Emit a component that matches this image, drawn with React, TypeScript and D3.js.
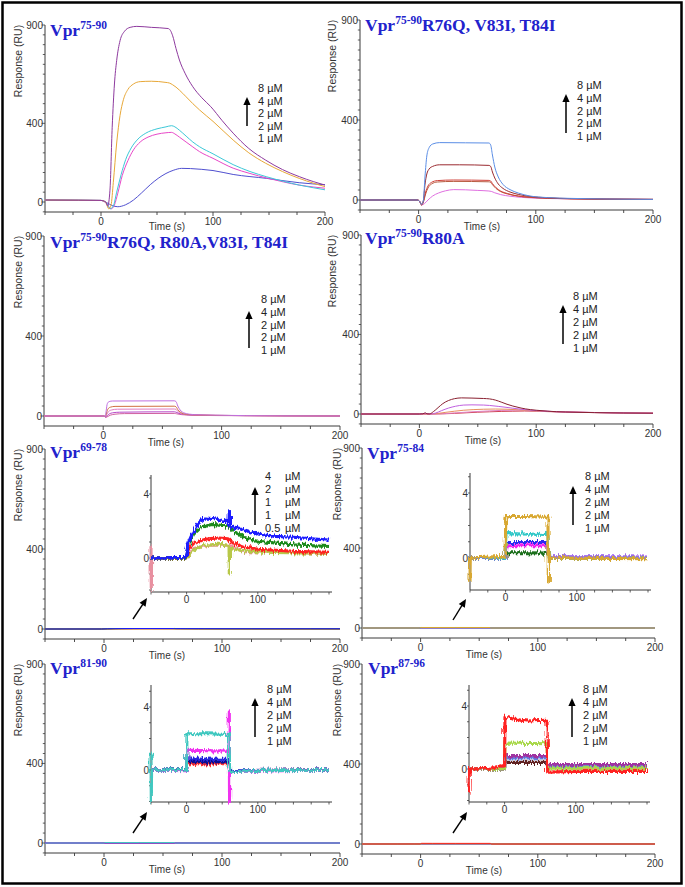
import * as d3 from "d3";

type Pt = [number, number];
interface Trace { color: string; pts: Pt[] }

// ---------- axis ticks / labels ----------
const timeTicks = [-50, -25, 0, 25, 50, 75, 100, 125, 150, 175, 200];
const timeLabels = [0, 100, 200];
const respTicks = d3.range(-50, 901, 50);
const respLabels = [0, 400, 900];
const insetTimeLabels = [0, 100];
const insetRespTicks = [-2, -1, 0, 1, 2, 3, 4, 5];
const insetRespLabels = [0, 4];
const concLabels = ["8 µM", "4 µM", "2 µM", "2 µM", "1 µM"];
const conc6978Labels = ["4", "2", "1", "1", "0.5"];

// ---------- Vpr75-90 ----------
const wt8: Pt[] = [[-50, 10], [-20, 9], [0, 8], [4, 2], [6, -20], [8, 60], [10, 380], [12, 600], [14, 720], [17, 820], [21, 868], [26, 888], [32, 893], [45, 888], [60, 882], [62, 872], [64, 845], [67, 780], [70, 722], [75, 655], [82, 586], [90, 530], [98, 485], [108, 415], [118, 350], [132, 272], [147, 213], [162, 165], [177, 129], [190, 103], [200, 86]];
const wt4: Pt[] = [[-50, 10], [-20, 9], [0, 8], [4, 0], [7, -35], [9, -15], [11, 100], [14, 300], [17, 440], [20, 520], [24, 572], [29, 600], [35, 612], [45, 614], [58, 608], [61, 605], [64, 596], [67, 584], [70, 569], [76, 535], [82, 500], [88, 468], [100, 410], [118, 315], [132, 250], [147, 197], [162, 155], [177, 120], [190, 95], [200, 78]];
const wt2a: Pt[] = [[-50, 10], [-20, 9], [0, 8], [5, -5], [8, -35], [11, -20], [14, 50], [18, 140], [22, 215], [27, 275], [33, 320], [40, 350], [50, 372], [58, 382], [63, 388], [66, 382], [70, 365], [76, 335], [82, 305], [88, 281], [100, 245], [118, 190], [133, 155], [148, 128], [163, 105], [177, 86], [190, 72], [200, 62]];
const wt2b: Pt[] = [[-50, 10], [-20, 9], [0, 8], [5, -8], [9, -35], [12, -15], [15, 45], [19, 135], [24, 210], [29, 265], [35, 305], [42, 330], [50, 345], [58, 352], [63, 354], [66, 346], [70, 330], [76, 305], [82, 280], [88, 256], [100, 222], [118, 172], [133, 145], [148, 122], [163, 102], [177, 86], [190, 76], [200, 70]];
const wt1: Pt[] = [[-50, 10], [-20, 9], [0, 8], [5, -3], [10, -18], [15, -24], [22, -14], [29, 10], [36, 45], [44, 88], [51, 120], [58, 145], [65, 162], [72, 171], [80, 170], [90, 166], [100, 160], [118, 140], [148, 120], [177, 98], [200, 88]];

// ---------- Vpr75-90 R76Q, V83I, T84I ----------
const m3_8: Pt[] = [[-50, 0], [-1, 0], [1, -8], [2.5, -22], [4, -5], [5.5, 120], [7, 220], [9, 262], [12, 280], [18, 287], [40, 286], [60, 285], [61.5, 275], [63, 225], [65, 165], [68, 115], [72, 78], [78, 52], [85, 35], [95, 20], [110, 12], [130, 8], [160, 5], [200, 3]];
const m3_4: Pt[] = [[-50, 0], [-1, 0], [1, -8], [2.5, -22], [4, -5], [5.5, 80], [7, 130], [9, 155], [12, 168], [18, 176], [35, 176], [60, 173], [61.5, 168], [63, 140], [65, 110], [68, 80], [72, 58], [78, 40], [85, 28], [95, 18], [110, 11], [130, 7], [160, 5], [200, 3]];
const m3_2a: Pt[] = [[-50, 0], [-1, 0], [1, -8], [2.5, -25], [4, -10], [6, 40], [8, 70], [11, 88], [16, 97], [30, 100], [60, 98], [61.5, 95], [63, 82], [66, 62], [70, 45], [76, 32], [85, 20], [95, 14], [110, 9], [130, 6], [160, 4], [200, 3]];
const m3_2b: Pt[] = [[-50, 0], [-1, 0], [1, -8], [2.5, -25], [4, -12], [6, 30], [8, 60], [11, 80], [16, 90], [30, 93], [60, 91], [61.5, 88], [63, 77], [66, 58], [70, 42], [76, 30], [85, 19], [95, 13], [110, 9], [130, 6], [160, 4], [200, 3]];
const m3_1: Pt[] = [[-50, 0], [-1, 0], [1, -8], [2.5, -25], [5, -18], [8, 0], [12, 20], [17, 35], [23, 46], [30, 52], [40, 51], [50, 48], [60, 45], [62, 43], [65, 36], [70, 27], [78, 19], [88, 13], [100, 9], [130, 6], [160, 4], [200, 3]];

// ---------- Vpr75-90 R76Q, R80A, V83I, T84I ----------
const m4_8: Pt[] = [[-50, 0], [1, 0], [1.8, -4], [2.6, 30], [3.5, 62], [5, 72], [8, 75], [60, 76], [61.5, 72], [63, 50], [65, 30], [68, 16], [73, 9], [80, 6], [95, 4], [120, 2], [150, 1], [200, 0]];
const m4_4: Pt[] = [[-50, 0], [1, 0], [1.8, -4], [2.8, 15], [4, 35], [6, 44], [10, 48], [60, 49], [61.5, 46], [63, 32], [65, 20], [68, 11], [73, 7], [80, 5], [95, 3], [120, 2], [150, 1], [200, 0]];
const m4_2a: Pt[] = [[-50, 0], [1, 0], [1.8, -5], [3, 8], [4.5, 22], [7, 30], [12, 34], [60, 35], [61.5, 33], [63, 23], [66, 13], [70, 8], [80, 5], [95, 3], [120, 2], [200, 0]];
const m4_2b: Pt[] = [[-50, 0], [1, 0], [2, -6], [3.5, 2], [5, 10], [8, 16], [14, 19], [60, 21], [61.5, 19], [64, 13], [68, 8], [75, 5], [95, 3], [120, 2], [200, 0]];
const m4_1: Pt[] = [[-50, 0], [1, 0], [2, -7], [4, -2], [6, 4], [10, 9], [18, 12], [60, 13], [62, 11], [66, 7], [75, 4], [100, 2], [200, 0]];

// ---------- Vpr75-90 R80A ----------
const r80_8: Pt[] = [[-50, 0], [0, 0], [3, 1], [5, 6], [6.5, 1], [8.5, 0], [12, 12], [16, 32], [20, 52], [25, 68], [30, 77], [36, 81], [45, 80], [55, 78], [60, 76], [65, 70], [70, 60], [75, 49], [80, 40], [87, 30], [95, 22], [100, 19], [110, 14], [125, 10], [150, 7], [175, 5], [200, 4]];
const r80_4: Pt[] = [[-50, 0], [0, 0], [5, 2], [10, 0], [14, 5], [19, 17], [25, 30], [31, 39], [38, 45], [45, 46], [55, 45], [60, 43], [68, 38], [75, 33], [80, 29], [90, 22], [100, 17], [115, 12], [135, 9], [165, 6], [200, 4]];
const r80_2a: Pt[] = [[-50, 0], [0, 0], [10, 0], [16, 3], [22, 8], [30, 14], [38, 19], [46, 22], [55, 24], [65, 25], [75, 24], [85, 21], [95, 17], [105, 14], [120, 11], [140, 8], [170, 6], [200, 4]];
const r80_2b: Pt[] = [[-50, 0], [0, 0], [12, 0], [22, 2], [32, 6], [45, 11], [58, 15], [70, 18], [82, 19], [92, 18], [102, 15], [115, 12], [135, 9], [165, 6], [200, 4]];
const r80_1: Pt[] = [[-50, 0], [0, 0], [12, 0], [20, 1], [30, 3], [40, 6], [50, 9], [60, 11], [70, 13], [80, 14], [90, 15], [100, 14], [110, 12], [125, 10], [150, 7], [200, 4]];

// ---------- Vpr69-78 ----------
const f6978_05: Pt[] = [[-50, 0.8], [-49.6, -2], [-49.2, 0], [0, 0], [10, 0.6], [30, 0.8], [60, 0.8], [80, 0.4], [200, 0.3]];
const f6978_1a: Pt[] = [[-50, 0], [0, 0], [10, 0.5], [25, 0.8], [45, 0.85], [59.6, 0.8], [60, -1], [60.4, 0.6], [80, 0.45], [120, 0.35], [200, 0.3]];
const f6978_1b: Pt[] = [[-50, 0], [-2, 0], [3, 0.6], [12, 1.0], [30, 1.2], [45, 1.25], [58, 1.2], [65, 0.95], [80, 0.7], [100, 0.55], [150, 0.42], [200, 0.35]];
const f6978_2: Pt[] = [[-50, 0], [-2, 0], [3, 0.9], [10, 1.5], [20, 1.9], [35, 2.1], [58, 2.0], [65, 1.7], [80, 1.3], [100, 1.05], [150, 0.82], [200, 0.72]];
const f6978_4: Pt[] = [[-50, 0], [-2, 0.05], [3, 1.0], [8, 1.5], [15, 2.1], [25, 2.5], [40, 2.45], [59.6, 2.25], [60, 2.9], [60.4, 1.95], [70, 1.9], [85, 1.7], [100, 1.5], [125, 1.35], [150, 1.3], [175, 1.2], [200, 1.12]];

// ---------- Vpr75-84 ----------
const f7584_1: Pt[] = [[-50, 0], [-1, 0], [0.5, 0.32], [30, 0.32], [59.5, 0.3], [60.5, 0], [200, 0]];
const f7584_2a: Pt[] = [[-50, 0], [-1, 0], [0.5, 0.95], [59.5, 0.95], [60.5, 0.08], [200, 0.05]];
const f7584_2b: Pt[] = [[-50, 0], [-1, 0], [0.5, 0.75], [59.5, 0.75], [60.5, 0.05], [200, 0.05]];
const f7584_4: Pt[] = [[-50, 0], [-1, 0], [0.5, 1.5], [59.5, 1.45], [60.5, 0], [200, 0]];
const f7584_8: Pt[] = [[-50, -1.4], [-49.6, 0], [-1, 0.1], [0.5, 2.55], [30, 2.55], [59.5, 2.5], [60, -1.5], [60.5, 0], [200, -0.05]];

// ---------- Vpr81-90 ----------
const f8190_1: Pt[] = [[-50, 0], [0, 0], [0.5, 0.4], [59.5, 0.4], [60.5, -0.05], [200, 0]];
const f8190_2a: Pt[] = [[-50, 0], [0, 0], [0.5, 0.55], [59.5, 0.5], [60.5, -0.05], [200, 0]];
const f8190_2b: Pt[] = [[-50, 0], [0, 0], [0.5, 0.7], [59.5, 0.68], [60.5, -0.05], [200, 0]];
const f8190_4: Pt[] = [[-50, 0], [0, -0.05], [0.5, 1.25], [59.5, 1.2], [60, 3.7], [60.3, -2.0], [60.6, -0.1], [200, 0]];
const f8190_8: Pt[] = [[-50, 1.1], [-49.6, -2.0], [-49.2, 0], [0, 0], [0.5, 2.3], [30, 2.3], [59.5, 2.25], [60.5, -0.1], [100, -0.05], [200, 0]];

// ---------- Vpr87-96 ----------
const f8796_1: Pt[] = [[-50, 0], [0, 0], [0.5, 0.42], [59.5, 0.42], [60.5, 0.2], [200, 0.2]];
const f8796_2a: Pt[] = [[-50, 0], [0, 0], [0.5, 0.7], [59.5, 0.7], [60.5, 0.15], [200, 0.15]];
const f8796_2b: Pt[] = [[-50, 0], [0, 0], [0.5, 0.85], [59.5, 0.85], [60.5, 0.3], [200, 0.28]];
const f8796_4: Pt[] = [[-50, 0], [0, 0], [0.5, 1.65], [59.5, 1.6], [60.5, 0.05], [200, 0.05]];
const f8796_8: Pt[] = [[-50, -1.5], [-49.6, 0], [-20, 0.05], [-5, 0.2], [0, 0.2], [0.5, 3.3], [10, 3.2], [30, 3.05], [59.5, 3.1], [60.5, -0.2], [100, -0.15], [200, -0.15]];

// ---------- layout ----------
interface InsetDef { x0: number; x1: number; top: number; bottom: number; zero: number; ppu: number; arrow: [number, number, number, number] }
interface LegendDef { x: number; y: number; step: number; ax: number; atop: number; abot: number; muX?: number }
interface PanelDef {
  sup: string; rest: string; tx: number; ty: number;
  ax: number; axEnd: number; y900: number; y0: number; respX: number; timeDy?: number;
  traces: Trace[]; labels: string[]; legend: LegendDef; inset?: InsetDef;
}

const panels: PanelDef[] = [
  {
    sup: "75-90", rest: "", tx: 50, ty: 36, ax: 45, axEnd: 325, y900: 25, y0: 202, respX: 18, timeDy: 17.5,
    traces: [
      { color: "#5050d0", pts: wt1 }, { color: "#e848c8", pts: wt2b }, { color: "#3cc8d8", pts: wt2a },
      { color: "#e8a838", pts: wt4 }, { color: "#8e3a9e", pts: wt8 },
    ],
    labels: concLabels, legend: { x: 258, y: 92, step: 12.5, ax: 247, atop: 97, abot: 126 },
  },
  {
    sup: "75-90", rest: "R76Q, V83I, T84I", tx: 365, ty: 31, ax: 360, axEnd: 653, y900: 20, y0: 200, respX: 332,
    traces: [
      { color: "#e070e0", pts: m3_1 }, { color: "#b85a40", pts: m3_2b }, { color: "#d04038", pts: m3_2a },
      { color: "#9a2a30", pts: m3_4 }, { color: "#5b8ee6", pts: m3_8 },
    ],
    labels: concLabels, legend: { x: 577, y: 89, step: 12.75, ax: 566, atop: 94, abot: 133 },
  },
  {
    sup: "75-90", rest: "R76Q, R80A,V83I, T84I", tx: 50, ty: 248, ax: 44, axEnd: 340, y900: 236, y0: 416, respX: 18,
    traces: [
      { color: "#d060a0", pts: m4_1 }, { color: "#b848c8", pts: m4_2b }, { color: "#e07cc0", pts: m4_2a },
      { color: "#d07040", pts: m4_4 }, { color: "#c070e0", pts: m4_8 },
    ],
    labels: concLabels, legend: { x: 261, y: 303, step: 12.75, ax: 249, atop: 311, abot: 348 },
  },
  {
    sup: "75-90", rest: "R80A", tx: 365, ty: 244, ax: 361, axEnd: 653, y900: 235, y0: 414, respX: 332,
    traces: [
      { color: "#d04050", pts: r80_1 }, { color: "#e080c0", pts: r80_2b }, { color: "#e89060", pts: r80_2a },
      { color: "#c060e0", pts: r80_4 }, { color: "#8a2030", pts: r80_8 },
    ],
    labels: concLabels, legend: { x: 573, y: 300, step: 13, ax: 563, atop: 305, abot: 344 },
  },
  {
    sup: "69-78", rest: "", tx: 50, ty: 458, ax: 45, axEnd: 340, y900: 449, y0: 629, respX: 18,
    traces: [
      { color: "#e890a0", pts: f6978_05 }, { color: "#b8c848", pts: f6978_1a }, { color: "#ff2020", pts: f6978_1b },
      { color: "#1a8a1a", pts: f6978_2 }, { color: "#1a1aff", pts: f6978_4 },
    ],
    labels: conc6978Labels, legend: { x: 265, y: 480, step: 13, ax: 255, atop: 487, abot: 525, muX: 285 },
    inset: { x0: 151, x1: 329, top: 475, bottom: 592, zero: 558, ppu: 16, arrow: [133, 619, 147, 598] },
  },
  {
    sup: "75-84", rest: "", tx: 367, ty: 459, ax: 362, axEnd: 655, y900: 448, y0: 628, respX: 337,
    traces: [
      { color: "#1f6f1f", pts: f7584_1 }, { color: "#2a2af0", pts: f7584_2a }, { color: "#f020f0", pts: f7584_2b },
      { color: "#30c8c8", pts: f7584_4 }, { color: "#d8a830", pts: f7584_8 },
    ],
    labels: concLabels, legend: { x: 585, y: 480, step: 13, ax: 573, atop: 486, abot: 525 },
    inset: { x0: 470, x1: 648, top: 473, bottom: 590, zero: 558, ppu: 16.25, arrow: [453, 620, 466, 599] },
  },
  {
    sup: "81-90", rest: "", tx: 50, ty: 674, ax: 45, axEnd: 340, y900: 664, y0: 843, respX: 18,
    traces: [
      { color: "#ff3030", pts: f8190_1 }, { color: "#101090", pts: f8190_2a }, { color: "#2828e0", pts: f8190_2b },
      { color: "#f030f0", pts: f8190_4 }, { color: "#40c8c0", pts: f8190_8 },
    ],
    labels: concLabels, legend: { x: 267, y: 693, step: 13, ax: 255, atop: 698, abot: 737 },
    inset: { x0: 151, x1: 329, top: 685, bottom: 802, zero: 770, ppu: 15.75, arrow: [133, 833, 147, 812] },
  },
  {
    sup: "87-96", rest: "", tx: 368, ty: 674, ax: 362, axEnd: 655, y900: 664, y0: 844, respX: 337,
    traces: [
      { color: "#602020", pts: f8796_1 }, { color: "#6080e0", pts: f8796_2a }, { color: "#a030a0", pts: f8796_2b },
      { color: "#a8d848", pts: f8796_4 }, { color: "#ff2020", pts: f8796_8 },
    ],
    labels: concLabels, legend: { x: 583, y: 693, step: 13, ax: 572, atop: 698, abot: 737 },
    inset: { x0: 469, x1: 647, top: 685, bottom: 802, zero: 769, ppu: 15.75, arrow: [453, 833, 467, 812] },
  },
];

const SANS = "Arial, 'Liberation Sans', Helvetica, sans-serif";
const SERIF = "'Times New Roman', 'Liberation Serif', serif";
const AXIS = "#3a3a3a";

function Arrow({ x1, y1, x2, y2, head = 8, half = 3.5, w = 1.5 }: { x1: number; y1: number; x2: number; y2: number; head?: number; half?: number; w?: number }) {
  const dx = x2 - x1, dy = y2 - y1;
  const L = Math.hypot(dx, dy);
  const ux = dx / L, uy = dy / L;
  const bx = x2 - ux * head, by = y2 - uy * head;
  const px = -uy, py = ux;
  return (
    <g>
      <line x1={x1} y1={y1} x2={bx + ux} y2={by + uy} stroke="#000" strokeWidth={w} />
      <polygon points={`${x2},${y2} ${bx + px * half},${by + py * half} ${bx - px * half},${by - py * half}`} fill="#000" />
    </g>
  );
}

function Inset({ d, traces }: { d: InsetDef; traces: Trace[] }) {
  const x = d3.scaleLinear().domain([-50, 200]).range([d.x0, d.x1]);
  const y = d3.scaleLinear().domain([0, 4]).range([d.zero, d.zero - 4 * d.ppu]);
  const line = d3.line<Pt>().x((p) => x(p[0])).y((p) => y(p[1]));
  return (
    <g>
      <line x1={d.x0} y1={d.top} x2={d.x0} y2={d.bottom} stroke={AXIS} strokeWidth={1} />
      <line x1={d.x0} y1={d.bottom} x2={d.x1 + 3} y2={d.bottom} stroke={AXIS} strokeWidth={1} />
      {insetRespTicks.filter((v) => y(v) >= d.top && y(v) <= d.bottom).map((v) => (
        <line key={v} x1={d.x0 - 2} x2={d.x0} y1={y(v)} y2={y(v)} stroke={AXIS} strokeWidth={0.8} />
      ))}
      {timeTicks.map((t) => (
        <line key={t} x1={x(t)} x2={x(t)} y1={d.bottom} y2={d.bottom + 2.5} stroke={AXIS} strokeWidth={0.8} />
      ))}
      {insetRespLabels.map((v) => (
        <text key={v} x={d.x0 - 2} y={y(v)} textAnchor="end" dominantBaseline="central" fontFamily={SANS} fontSize={10} fill="#333">{v}</text>
      ))}
      {insetTimeLabels.map((t) => (
        <text key={t} x={x(t)} y={d.bottom + 11} textAnchor="middle" fontFamily={SANS} fontSize={10} fill="#333">{t}</text>
      ))}
      <g filter="url(#sensorNoise)">
        {traces.map((tr, i) => (
          <path key={i} d={line(tr.pts) || ""} fill="none" stroke={tr.color} strokeWidth={3.1} strokeLinejoin="round" />
        ))}
      </g>
      <Arrow x1={d.arrow[0]} y1={d.arrow[1]} x2={d.arrow[2]} y2={d.arrow[3]} head={8} half={3.6} w={1.4} />
    </g>
  );
}

function Panel({ p }: { p: PanelDef }) {
  const x = d3.scaleLinear().domain([-50, 200]).range([p.ax, p.axEnd]);
  const y = d3.scaleLinear().domain([0, 900]).range([p.y0, p.y900]);
  const axisY = p.y0 + 10;
  const line = d3.line<Pt>().x((d) => x(d[0])).y((d) => y(d[1])).curve(p.inset ? d3.curveLinear : d3.curveMonotoneX);
  const lg = p.legend;
  return (
    <g>
      {/* axes */}
      <line x1={p.ax} y1={y(900)} x2={p.ax} y2={axisY} stroke={AXIS} strokeWidth={1} />
      <line x1={p.ax} y1={axisY} x2={p.axEnd} y2={axisY} stroke={AXIS} strokeWidth={1} />
      {respTicks.filter((v) => y(v) <= axisY).map((v) => (
        <line key={v} x1={p.ax - (respLabels.includes(v) ? 3.5 : 2.2)} x2={p.ax} y1={y(v)} y2={y(v)} stroke={AXIS} strokeWidth={0.8} />
      ))}
      {timeTicks.map((t) => (
        <line key={t} x1={x(t)} x2={x(t)} y1={axisY} y2={axisY + (timeLabels.includes(t) ? 4 : 3)} stroke={AXIS} strokeWidth={0.9} />
      ))}
      {respLabels.map((v) => (
        <text key={v} x={p.ax - 2} y={y(v)} textAnchor="end" dominantBaseline="central" fontFamily={SANS} fontSize={10} fill="#333">{v}</text>
      ))}
      {timeLabels.map((t) => (
        <text key={t} x={x(t)} y={axisY + 13} textAnchor="middle" fontFamily={SANS} fontSize={10} fill="#333">{t}</text>
      ))}
      <text x={p.ax + 122} y={axisY + (p.timeDy ?? 19.5)} textAnchor="middle" fontFamily={SANS} fontSize={10} fill="#333">Time (s)</text>
      <text transform={`translate(${p.respX},${p.y900 + 36}) rotate(-90)`} textAnchor="middle" dominantBaseline="central" fontFamily={SANS} fontSize={10.5} fill="#333">Response (RU)</text>

      {/* curves */}
      {p.traces.map((tr, i) => (
        <path key={i} d={line(tr.pts) || ""} fill="none" stroke={tr.color} strokeWidth={1} />
      ))}

      {/* title */}
      <text x={p.tx} y={p.ty} fill="#2222cc" fontFamily={SERIF} fontWeight="bold" fontSize={17.5}>
        Vpr<tspan fontSize={11.5} dy={-7.5}>{p.sup}</tspan>
        {p.rest && <tspan dy={7.5}>{p.rest}</tspan>}
      </text>

      {/* legend */}
      {p.labels.map((s, i) => (
        <text key={i} x={lg.x} y={lg.y + i * lg.step} fontFamily={SANS} fontSize={11} fill="#222">{s}</text>
      ))}
      {lg.muX !== undefined && p.labels.map((_, i) => (
        <text key={"mu" + i} x={lg.muX} y={lg.y + i * lg.step} fontFamily={SANS} fontSize={11} fill="#222">µM</text>
      ))}
      <Arrow x1={lg.ax} y1={lg.abot} x2={lg.ax} y2={lg.atop} head={8} half={3.6} w={1.5} />

      {p.inset && <Inset d={p.inset} traces={p.traces} />}
    </g>
  );
}

export default function App() {
  return (
    <div style={{ position: "absolute", left: 0, top: 0 }}>
      <svg width={685} height={887} style={{ display: "block", background: "#fff" }}>
        <defs>
          {/* rendering texture for the noisy low-signal traces */}
          <filter id="sensorNoise" x="-5%" y="-30%" width="110%" height="160%">
            <feTurbulence type="fractalNoise" baseFrequency="0.7 0.08" numOctaves={2} seed={3} result="n" />
            <feDisplacementMap in="SourceGraphic" in2="n" scale={6.5} xChannelSelector="R" yChannelSelector="G" />
          </filter>
        </defs>
        <rect x={0} y={0} width={685} height={887} fill="#fff" />
        {panels.map((p, i) => (
          <Panel key={i} p={p} />
        ))}
        <rect x={2.5} y={2.5} width={679} height={881} fill="none" stroke="#000" strokeWidth={2.5} />
      </svg>
    </div>
  );
}
